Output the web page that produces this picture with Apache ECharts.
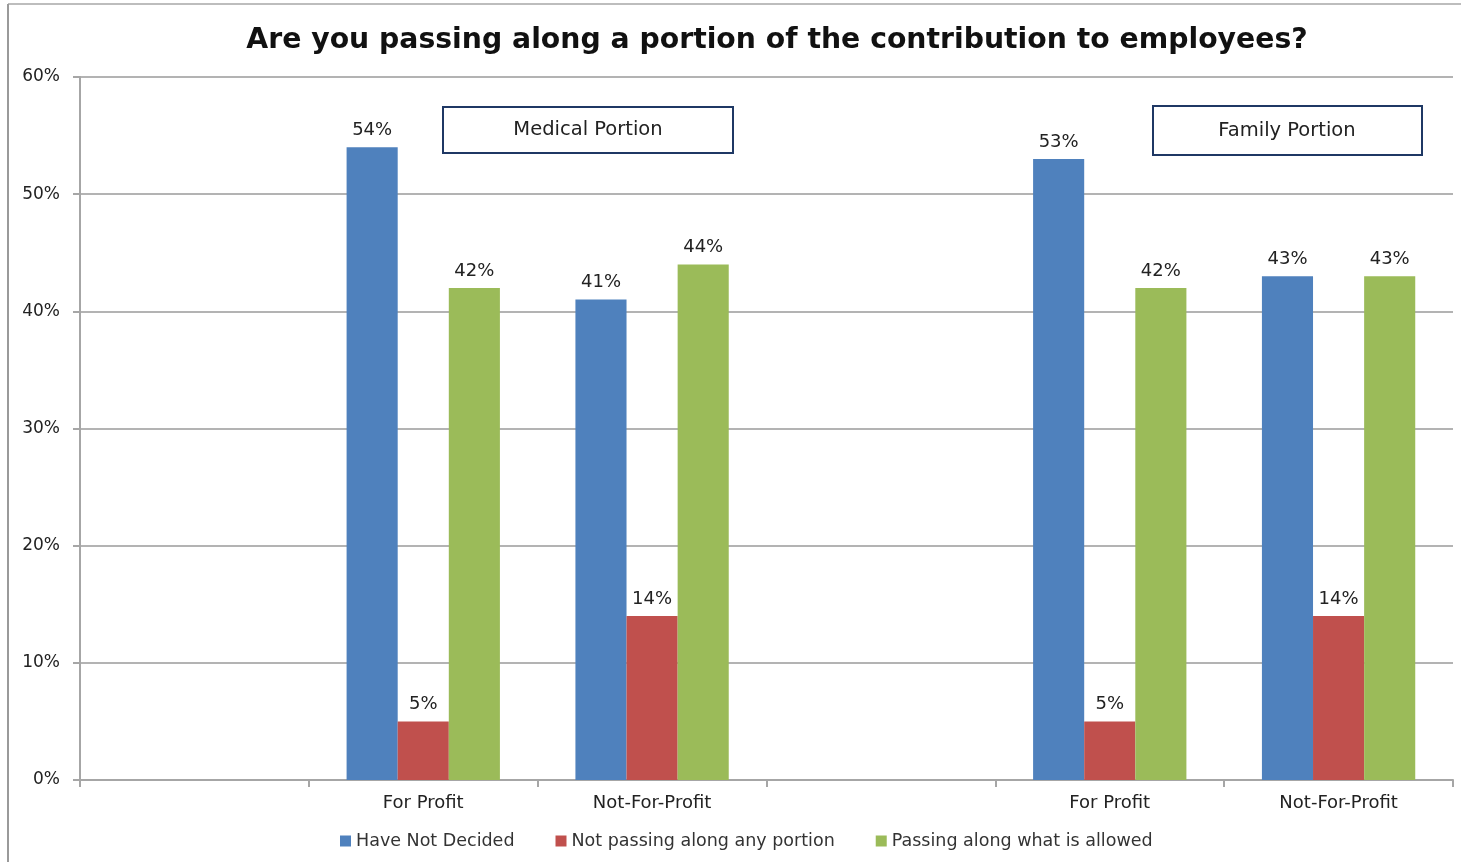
<!DOCTYPE html>
<html>
<head>
<meta charset="utf-8">
<script src="https://cdn.jsdelivr.net/npm/echarts@6/dist/echarts.min.js"></script>
<style>
  html, body { margin: 0; padding: 0; background: #fff; }
  #chart { width: 1461px; height: 862px; }
</style>
</head>
<body>
<div id="chart"></div>
<script>
var categories = ['', 'For Profit', 'Not-For-Profit', '', 'For Profit', 'Not-For-Profit'];
var seriesNames = ['Have Not Decided', 'Not passing along any portion', 'Passing along what is allowed'];
var haveNotDecided = ['-', 54, 41, '-', 53, 43];
var notPassing = ['-', 5, 14, '-', 5, 14];
var passingAllowed = ['-', 42, 44, '-', 42, 43];
var yTicks = [0, 10, 20, 30, 40, 50, 60];
var colors = ['#4f81bd', '#c0504d', '#9bbb59'];

var font = 'DejaVu Sans';
var myChart = echarts.init(document.getElementById('chart'));

function barSeries(name, data, color) {
    return {
        name: name,
        type: 'bar',
        data: data,
        barGap: '0%',
        barCategoryGap: '33%',
        itemStyle: { color: color },
        label: {
            show: true,
            position: 'top',
            distance: 8,
            formatter: '{c}%',
            color: '#222',
            fontFamily: font,
            fontSize: 18
        }
    };
}

var option = {
    animation: false,
    color: colors,
    title: {
        text: 'Are you passing along a portion of the contribution to employees?',
        left: 772,
        textAlign: 'center',
        top: 22,
        textStyle: {
            fontFamily: 'DejaVu Sans',
            fontWeight: 'bold',
            fontSize: 28.3,
            color: '#111'
        }
    },
    legend: {
        left: 335,
        top: 827,
        itemWidth: 11,
        itemHeight: 11,
        itemGap: 41,
        icon: 'rect',
        textStyle: { fontFamily: font, fontSize: 17.5, color: '#333' },
        data: seriesNames
    },
    grid: {
        left: 80,
        right: 8,
        top: 77,
        bottom: 82,
        containLabel: false
    },
    xAxis: {
        type: 'category',
        data: categories,
        axisLine: { lineStyle: { color: '#a6a6a6', width: 2 } },
        axisTick: { show: true, length: 7, lineStyle: { color: '#a6a6a6', width: 2 } },
        axisLabel: { interval: 0, margin: 14, fontFamily: font, fontSize: 18, color: '#222' }
    },
    yAxis: {
        type: 'value',
        min: yTicks[0],
        max: yTicks[yTicks.length - 1],
        interval: 10,
        axisLine: { show: true, lineStyle: { color: '#a6a6a6', width: 2 } },
        axisTick: { show: true, length: 7, lineStyle: { color: '#a6a6a6', width: 2 } },
        splitLine: { lineStyle: { color: '#b3b3b3', width: 2 } },
        axisLabel: { margin: 20, formatter: '{value}%', fontFamily: font, fontSize: 17, color: '#222' }
    },
    graphic: [
        { type: 'line', shape: { x1: 8, y1: 4, x2: 1461, y2: 4 }, style: { stroke: '#bdbdbd', lineWidth: 2 } },
        { type: 'line', shape: { x1: 8, y1: 4, x2: 8, y2: 862 }, style: { stroke: '#9a9a9a', lineWidth: 2 } },
        {
            type: 'group', left: 442, top: 106,
            children: [
                { type: 'rect', shape: { x: 0, y: 0, width: 290, height: 46 }, style: { fill: '#fff', stroke: '#1f3864', lineWidth: 2 } },
                { type: 'text', x: 145, y: 23, style: { text: 'Medical Portion', fontFamily: font, fontSize: 19.5, fill: '#222', align: 'center', verticalAlign: 'middle' } }
            ]
        },
        {
            type: 'group', left: 1152, top: 105,
            children: [
                { type: 'rect', shape: { x: 0, y: 0, width: 269, height: 49 }, style: { fill: '#fff', stroke: '#1f3864', lineWidth: 2 } },
                { type: 'text', x: 134, y: 25, style: { text: 'Family Portion', fontFamily: font, fontSize: 19.5, fill: '#222', align: 'center', verticalAlign: 'middle' } }
            ]
        }
    ],
    series: [
        barSeries(seriesNames[0], haveNotDecided, colors[0]),
        barSeries(seriesNames[1], notPassing, colors[1]),
        barSeries(seriesNames[2], passingAllowed, colors[2])
    ]
};
myChart.setOption(option);
</script>
</body>
</html>
